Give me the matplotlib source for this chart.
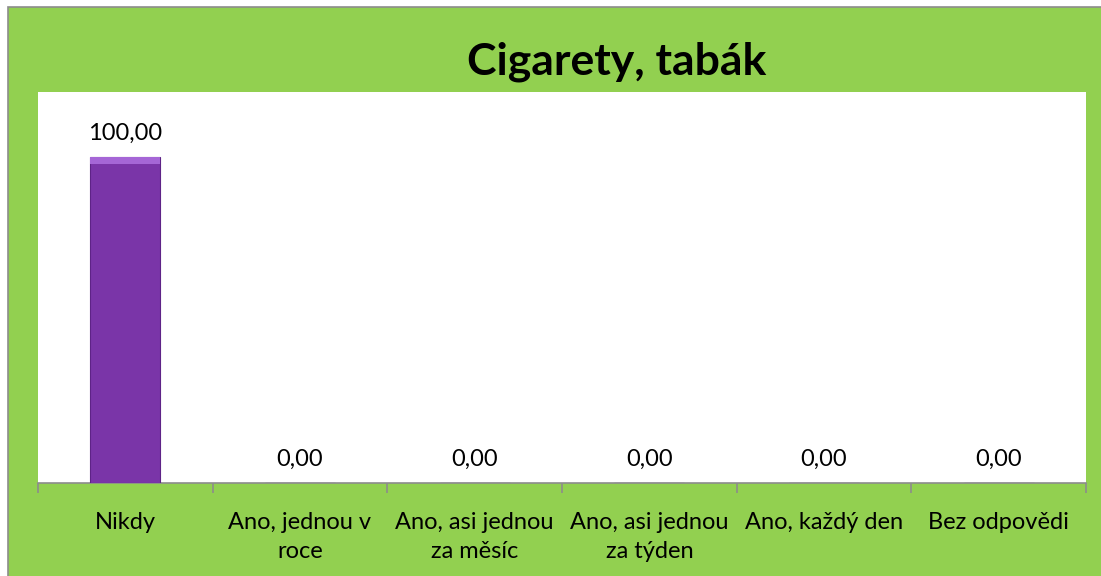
import matplotlib
matplotlib.use("Agg")
import matplotlib.pyplot as plt
import numpy as np
from matplotlib.patches import Rectangle

categories = ["Nikdy", "Ano, jednou v\nroce", "Ano, asi jednou\nza měsíc",
              "Ano, asi jednou\nza týden", "Ano, každý den", "Bez odpovědi"]
values = [100.0, 0.0, 0.0, 0.0, 0.0, 0.0]
title = "Cigarety, tabák"

W, H = 1101, 576
fig = plt.figure(figsize=(W / 100, H / 100), dpi=100)
fig.patch.set_facecolor("white")
font = ["Lato", "DejaVu Sans"]

# green chart area with gray border (right/bottom edges cut off)
bg = Rectangle((7.5 / W, -0.05), 1.1, 1.05 - 7.5 / H,
               transform=fig.transFigure, facecolor="#92D050",
               edgecolor="#8C8C8C", linewidth=1.2, zorder=-10)
fig.add_artist(bg)

left, right, top, bottom = 38, 1086, 92, 483
ax = fig.add_axes([left / W, 1 - bottom / H, (right - left) / W, (bottom - top) / H])
ax.set_zorder(5)
ax.set_facecolor("white")

x = np.arange(len(categories))
bars = ax.bar(x, values, width=0.4, color="#7A35A8", edgecolor="#5E2387",
              linewidth=0.8, zorder=3)
# bevel highlight on top of bars
for b in bars:
    if b.get_height() > 0:
        ax.bar(b.get_x() + b.get_width() / 2, 2.0, bottom=b.get_height() - 2.0,
               width=b.get_width(), color="#A566D6", linewidth=0, zorder=4)

for xi, v in zip(x, values):
    ax.text(xi, v + 4, f"{v:.2f}".replace(".", ","), ha="center", va="bottom",
            fontsize=17, family=font, color="black")

ax.set_xlim(-0.5, len(categories) - 0.5)
ax.set_ylim(0, 120)
ax.set_yticks([])
for s in ["left", "right", "top"]:
    ax.spines[s].set_visible(False)
ax.spines["bottom"].set_color("#8C8C8C")
ax.spines["bottom"].set_linewidth(1.2)

ax.set_xticks(np.arange(len(categories) + 1) - 0.5)
ax.set_xticklabels([])
ax.tick_params(axis="x", length=7, color="#8C8C8C", width=1.2, direction="out")
ax.set_xticks(x, minor=True)
ax.set_xticklabels(categories, minor=True, fontsize=17, family=font,
                   linespacing=1.45, va="top")
ax.tick_params(axis="x", which="minor", length=0, pad=21)

fig.text(617 / W, 1 - 62 / H, title, ha="center", va="center", fontsize=32,
         fontweight="bold", family=font, color="black")

fig.savefig("out.png", dpi=100, facecolor=fig.get_facecolor())
